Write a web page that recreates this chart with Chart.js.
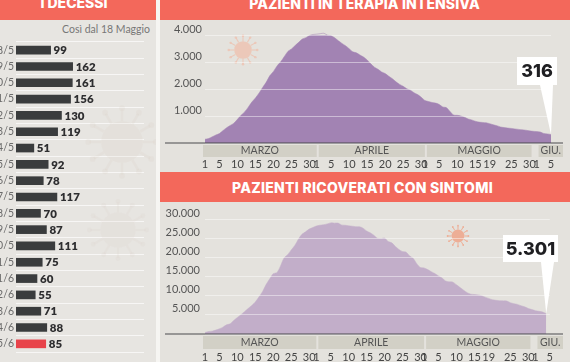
<!DOCTYPE html>
<html>
<head>
<meta charset="utf-8">
<script src="https://cdn.jsdelivr.net/npm/chart.js@4"></script>
<style>
  html, body { margin: 0; padding: 0; background: #fff; }
  #page { position: relative; width: 570px; height: 362px; overflow: hidden; background: #f6f5f2; font-family: Lato, sans-serif; }
  .panel { position: absolute; background: #e4e2dd; }
  .head { position: absolute; background: #f3685b; color: #fff; font-family: Inter, sans-serif; font-weight: 800; text-align: center; overflow: hidden; }
  .head span { position: absolute; left: 0; right: 0; white-space: nowrap; }
  canvas { position: absolute; display: block; }
  #nota { position: absolute; left: 0; width: 150px; top: 23px; text-align: right; font-size: 10.5px; color: #777; }
</style>
</head>
<body>
<div id="page">
  <div class="panel" style="left:0;top:20px;width:156px;height:342px;background:#e7e5e1"></div>
  <div class="panel" style="left:160px;top:20px;width:410px;height:152px"></div>
  <div class="panel" style="left:160px;top:202px;width:410px;height:160px"></div>
  <div class="head" style="left:0;top:0;width:156px;height:20px;font-size:14px"><span style="top:-6px;left:-8px">I DECESSI</span></div>
  <div class="head" style="left:160px;top:0;width:410px;height:20px;font-size:14px"><span style="top:-5px;left:-1px;letter-spacing:0.1px">PAZIENTI IN TERAPIA INTENSIVA</span></div>
  <div class="head" style="left:160px;top:172px;width:410px;height:30px;font-size:14px"><span style="top:7px;left:-5px;letter-spacing:0.27px">PAZIENTI RICOVERATI CON SINTOMI</span></div>
  <div id="nota">Così dal 18 Maggio</div>
  <canvas id="decessiChart" width="156" height="342" style="left:0;top:20px"></canvas>
  <canvas id="terapiaChart" width="410" height="152" style="left:160px;top:20px"></canvas>
  <canvas id="ricoveratiChart" width="410" height="160" style="left:160px;top:202px"></canvas>
</div>
<script>
const dateDecessi = ['18/5', '19/5', '20/5', '21/5', '22/5', '23/5', '24/5', '25/5', '26/5', '27/5', '28/5', '29/5', '30/5', '31/5', '1/6', '2/6', '3/6', '4/6', '5/6'];
const decessi = [99, 162, 161, 156, 130, 119, 51, 92, 78, 117, 70, 87, 111, 75, 60, 55, 71, 88, 85];

const terapiaIntensiva = [
  140, 166, 229, 295, 351, 462, 567, 650, 733, 877, 1028, 1153, 1328, 1518, 1672, 1851, 2060, 2257, 2498, 2655, 2857, 3009, 3204, 3396, 3489, 3612, 3732, 3856, 3906, 3981, 4023,
  4035, 4053, 4068, 3994, 3977, 3898, 3792, 3693, 3605, 3497, 3381, 3343, 3260, 3186, 3079, 2936, 2812, 2733, 2635, 2573, 2471, 2384, 2267, 2173, 2102, 2009, 1956, 1863, 1795, 1694,
  1578, 1539, 1501, 1479, 1427, 1333, 1311, 1168, 1034, 1027, 999, 952, 893, 855, 808, 775, 762, 749, 716, 676, 640, 595, 572, 553, 541, 521, 505, 489, 475, 450, 435,
  424, 408, 353, 338, 316
];
const ricoverati = [
  401, 639, 742, 1034, 1346, 1790, 2394, 2651, 3557, 4316, 5038, 5838, 6650, 7426, 8372, 9663, 11025, 12894, 14363, 15757, 16020, 17708, 19846, 20692, 21937, 23112, 24753, 26029, 26676, 27386, 27795,
  28192, 28403, 28540, 28741, 29010, 28949, 28976, 28485, 28399, 28242, 28144, 28023, 28011, 27643, 26893, 26430, 25786, 25007, 24906, 25033, 24134, 23805, 22871, 22068, 21533, 21372, 20353, 19723, 18300,
  17357, 17242, 16823, 16270, 15769, 15174, 14636, 13834, 13618, 13539, 12865, 12147, 11453, 10792, 10400, 10311, 10207, 9991, 9624, 9300, 8957, 8800, 8695, 8650, 8613, 8185, 7917, 7729, 7379, 7094, 6680,
  6387, 6099, 5916, 5742, 5301
];

const mesi = ['MARZO', 'APRILE', 'MAGGIO', 'GIU.'];
const numeroMese = [3, 4, 5, 6];
const giorniMese = [31, 30, 31, 5];
const tickDate = ['1/3', '5/3', '10/3', '15/3', '20/3', '25/3', '30/3', '1/4', '5/4', '10/4', '15/4', '20/4', '25/4', '30/4', '1/5', '5/5', '10/5', '15/5', '19/5', '25/5', '30/5', '1/6', '5/6'];
const tickTerapia = [0, 1000, 2000, 3000, 4000];
const tickRicoverati = [0, 5000, 10000, 15000, 20000, 25000, 30000];

const giorni = [];
numeroMese.forEach((m, i) => {
    for (let d = 1; d <= giorniMese[i]; d++) giorni.push(d + '/' + m);
});

const puntata = n => String(n).replace(/\B(?=(\d{3})+$)/g, '.');

function disegnaVirus(ctx, x, y, r, colore) {
    ctx.save();
    ctx.strokeStyle = colore;
    ctx.fillStyle = colore;
    ctx.lineWidth = Math.max(1, r / 10);
    for (let a = 0; a < 12; a++) {
        const ang = a * Math.PI / 6;
        ctx.beginPath();
        ctx.moveTo(x + Math.cos(ang) * r * 0.8, y + Math.sin(ang) * r * 0.8);
        ctx.lineTo(x + Math.cos(ang) * r * 1.25, y + Math.sin(ang) * r * 1.25);
        ctx.stroke();
        ctx.beginPath();
        ctx.arc(x + Math.cos(ang) * r * 1.3, y + Math.sin(ang) * r * 1.3, r / 9, 0, Math.PI * 2);
        ctx.fill();
    }
    ctx.beginPath();
    ctx.arc(x, y, r * 0.8, 0, Math.PI * 2);
    ctx.fill();
    ctx.restore();
}

// baseline, month bands, callout and the small virus of the two area charts
const areaExtras = {
    id: 'areaExtras',
    beforeDatasetsDraw(chart, args, opts) {
        disegnaVirus(chart.ctx, opts.virus[0], opts.virus[1], opts.virus[2], opts.virus[3]);
    },
    afterDraw(chart, args, opts) {
        const { ctx, scales: { x, y } } = chart;
        const y0 = y.getPixelForValue(0);
        const w = chart.width;

        let primo = 0;
        mesi.forEach((nome, i) => {
            const da = i === 0 ? x.getPixelForValue(0) - 2 : x.getPixelForValue(primo) + 2;
            const a = i === mesi.length - 1 ? w - 7 : x.getPixelForValue(primo + giorniMese[i]) - (i === 2 ? 5 : 0);
            ctx.fillStyle = '#d2d0c6';
            ctx.fillRect(da, y0 + 2, a - da, opts.bandHeight);
            ctx.fillStyle = '#555';
            ctx.font = '10.5px Lato';
            ctx.textAlign = 'center';
            ctx.textBaseline = 'middle';
            ctx.fillText(nome, (da + a) / 2, y0 + 2 + opts.bandHeight / 2);
            primo += giorniMese[i];
        });

        ctx.strokeStyle = '#4a4a4e';
        ctx.lineWidth = 1.2;
        ctx.beginPath();
        ctx.moveTo(5, y0);
        ctx.lineTo(w - 7, y0);
        ctx.stroke();

        // callout pointing at the last value
        const last = chart.data.datasets[0].data.length - 1;
        const tx = x.getPixelForValue(last);
        const ty = y.getPixelForValue(chart.data.datasets[0].data[last]);
        const [bx, by, bw, bh] = opts.box;
        ctx.fillStyle = '#fff';
        ctx.fillRect(bx, by, bw, bh);
        ctx.beginPath();
        ctx.moveTo(bx + bw - 17, by + bh);
        ctx.lineTo(bx + bw - 4, by + bh);
        ctx.lineTo(tx, ty);
        ctx.closePath();
        ctx.fill();
        ctx.fillStyle = '#1f1f22';
        ctx.font = '800 18px Inter';
        ctx.textAlign = 'center';
        ctx.textBaseline = 'middle';
        ctx.fillText(puntata(chart.data.datasets[0].data[last]), bx + bw / 2, by + bh / 2 + 1);
    }
};

function creaArea(id, valori, colore, ticksY, max, o) {
    const ctx = document.getElementById(id).getContext('2d');
    return new Chart(ctx, {
        type: 'line',
        data: {
            labels: giorni,
            datasets: [{
                data: valori,
                fill: true,
                clip: false,
                backgroundColor: colore,
                borderColor: colore,
                borderWidth: 0.5,
                pointRadius: 0,
                tension: 0.3
            }]
        },
        options: {
            responsive: false,
            animation: false,
            layout: { padding: { top: o.top, right: 19, left: 0, bottom: 0 } },
            plugins: {
                legend: { display: false },
                tooltip: { enabled: false },
                areaExtras: { bandHeight: o.band, box: o.box, virus: o.virus }
            },
            scales: {
                x: {
                    grid: { display: false, drawTicks: false },
                    border: { display: false },
                    afterFit: s => { s.height = o.xHeight; },
                    ticks: {
                        autoSkip: false,
                        maxRotation: 0,
                        padding: o.xPad,
                        color: '#444',
                        font: { family: 'Lato', size: 11 },
                        callback: function (v) {
                            const g = this.getLabelForValue(v);
                            return tickDate.includes(g) ? g.split('/')[0] : '';
                        }
                    }
                },
                y: {
                    min: 0,
                    max: max,
                    afterFit: s => { s.width = 45; },
                    afterBuildTicks: s => { s.ticks = ticksY.map(v => ({ value: v })); },
                    border: { display: false },
                    grid: { color: 'rgba(255,255,255,0.45)', drawTicks: false, z: 1 },
                    ticks: {
                        autoSkip: false,
                        padding: o.yPad,
                        color: '#555',
                        font: { family: 'Lato', size: 11, lineHeight: 1.1 },
                        // empty second line lifts the number above its gridline
                        callback: v => v === 0 ? '' : [puntata(v), '']
                    }
                }
            }
        },
        plugins: [areaExtras]
    });
}

creaArea('terapiaChart', terapiaIntensiva, '#a283b3', tickTerapia, 4000, {
    top: 15, xHeight: 29, xPad: 15, yPad: 3, band: 12,
    box: [357, 37, 40, 28], virus: [83, 30, 11, 'rgba(240,190,170,0.7)']
});
creaArea('ricoveratiChart', ricoverati, '#c2aec9', tickRicoverati, 30000, {
    top: 15.6, xHeight: 28, xPad: 17, yPad: 5, band: 13,
    box: [343, 33, 55, 27], virus: [298, 34, 8, '#edae96']
});

// big faint virus, value labels next to the bars
const barreExtras = {
    id: 'barreExtras',
    beforeDatasetsDraw(chart) {
        disegnaVirus(chart.ctx, 122, 122, 26, 'rgba(214,204,196,0.18)');
        disegnaVirus(chart.ctx, 118, 210, 22, 'rgba(214,204,196,0.15)');
    },
    afterDatasetsDraw(chart) {
        const { ctx } = chart;
        ctx.fillStyle = '#2e2e30';
        ctx.font = '800 11.5px Lato';
        ctx.textAlign = 'left';
        ctx.textBaseline = 'middle';
        chart.getDatasetMeta(0).data.forEach((bar, i) => {
            ctx.fillText(decessi[i], bar.x + 3, bar.y + 0.5);
        });
    }
};

new Chart(document.getElementById('decessiChart').getContext('2d'), {
    type: 'bar',
    data: {
        labels: dateDecessi,
        datasets: [{
            data: decessi,
            backgroundColor: decessi.map((v, i) => i === decessi.length - 1 ? '#e8434a' : '#3a3c3d'),
            barThickness: 8
        }]
    },
    options: {
        indexAxis: 'y',
        responsive: false,
        animation: false,
        layout: { padding: { top: 22, bottom: 10, right: 12, left: 0 } },
        plugins: { legend: { display: false }, tooltip: { enabled: false } },
        scales: {
            x: { display: false, min: 0, max: 366 },
            y: {
                afterFit: s => { s.width = 16; },
                border: { display: false },
                grid: { color: 'rgba(255,255,255,0.65)', drawTicks: false },
                ticks: {
                    autoSkip: false,
                    padding: 2,
                    color: '#6a6a6a',
                    font: { family: 'Lato', size: 10.5 }
                }
            }
        }
    },
    plugins: [barreExtras]
});
</script>
</body>
</html>
